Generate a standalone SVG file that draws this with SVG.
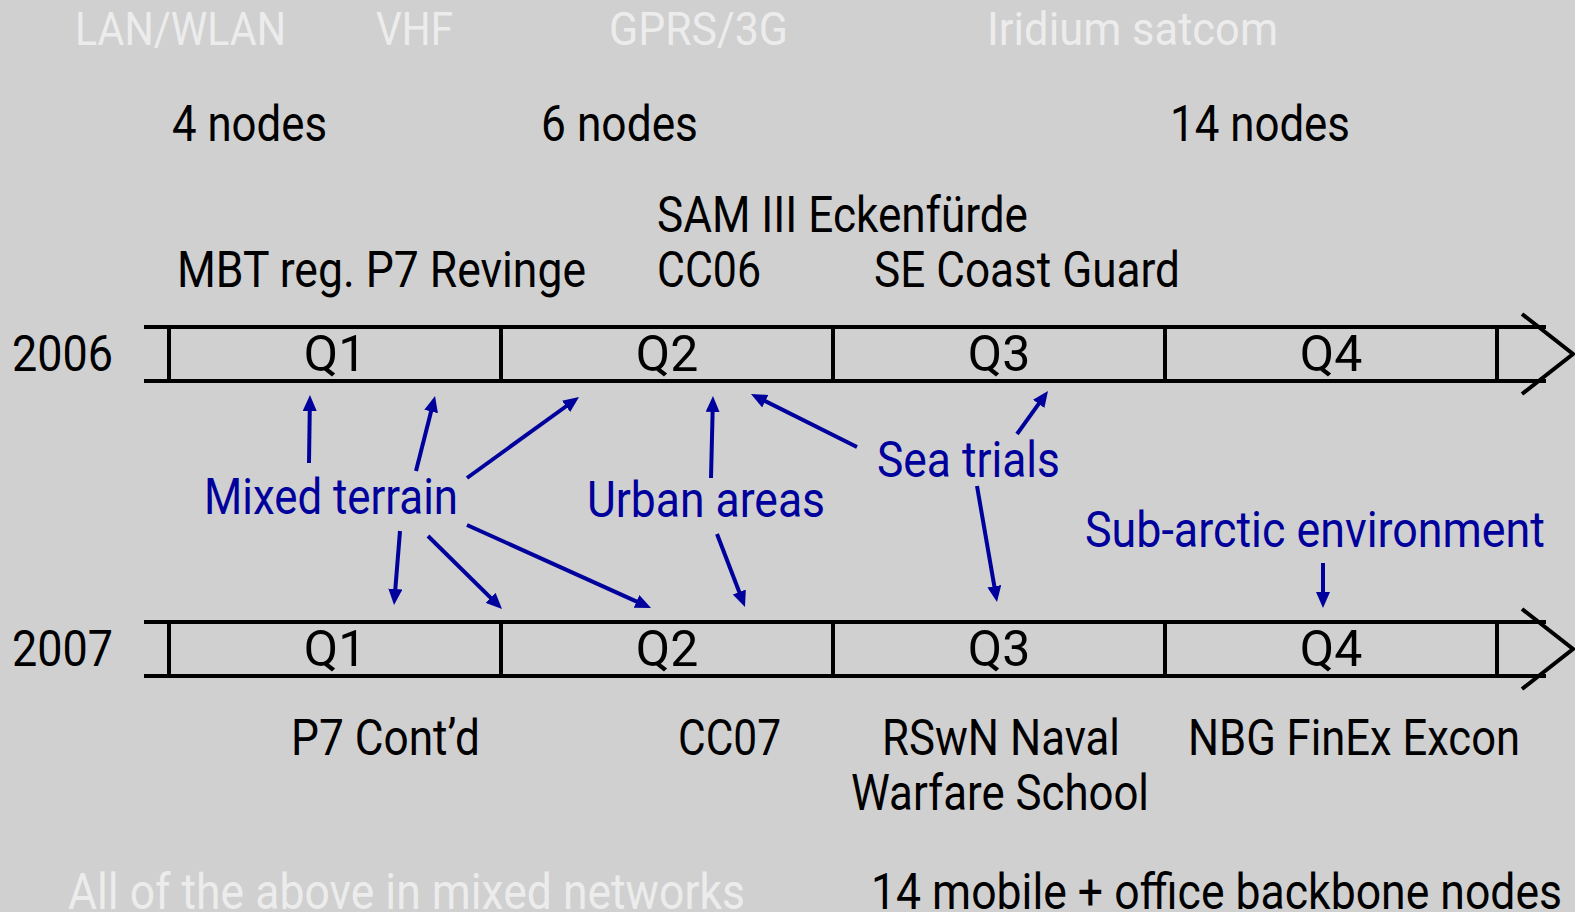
<svg xmlns="http://www.w3.org/2000/svg" width="1575" height="912" viewBox="0 0 1575 912">
<style>
text{font-family:Roboto,"Noto Sans","DejaVu Sans",sans-serif;font-size:50px;fill:#000}
.fade{fill:#ececec;font-size:46px}
.blue{fill:#00009c}
.q{text-anchor:middle}
.tl{stroke:#000;stroke-width:4;fill:none}
.arr{stroke:#00009c;stroke-width:4;fill:none;marker-end:url(#ah)}
</style>
<defs>
<marker id="ah" viewBox="0 0 16 14" markerWidth="16" markerHeight="14" refX="4" refY="7" orient="auto" markerUnits="userSpaceOnUse">
<path d="M0,0 L16,7 L0,14 Z" fill="#00009c"/>
</marker>
</defs>
<rect x="0" y="0" width="1575" height="912" fill="#d0d0d0"/>

<g id="tech-labels">
<text class="fade" x="75" y="45" textLength="211" lengthAdjust="spacingAndGlyphs">LAN/WLAN</text>
<text class="fade" x="376" y="45" textLength="77" lengthAdjust="spacingAndGlyphs">VHF</text>
<text class="fade" x="609" y="45" textLength="179" lengthAdjust="spacingAndGlyphs">GPRS/3G</text>
<text class="fade" x="987" y="45" textLength="291" lengthAdjust="spacingAndGlyphs">Iridium satcom</text>
</g>

<g id="node-counts">
<text x="172" y="141" textLength="155" lengthAdjust="spacingAndGlyphs">4 nodes</text>
<text x="541" y="141" textLength="157" lengthAdjust="spacingAndGlyphs">6 nodes</text>
<text x="1170" y="141" textLength="180" lengthAdjust="spacingAndGlyphs">14 nodes</text>
</g>

<g id="events-2006">
<text x="657" y="232" textLength="371" lengthAdjust="spacingAndGlyphs">SAM III Eckenfürde</text>
<text x="177" y="287" textLength="409" lengthAdjust="spacingAndGlyphs">MBT reg. P7 Revinge</text>
<text x="657" y="287" textLength="104" lengthAdjust="spacingAndGlyphs">CC06</text>
<text x="874" y="287" textLength="306" lengthAdjust="spacingAndGlyphs">SE Coast Guard</text>
</g>

<g id="timeline-2006">
<text x="12" y="371" textLength="101" lengthAdjust="spacingAndGlyphs">2006</text>
<path class="tl" d="M144,327 H1546 M144,381 H1546 M169,327 V381 M501,327 V381 M833,327 V381 M1165,327 V381 M1497,327 V381 M1522,314 L1573,354 L1522,394"/>
<text class="q" x="335" y="371">Q1</text>
<text class="q" x="667" y="371">Q2</text>
<text class="q" x="999" y="371">Q3</text>
<text class="q" x="1331" y="371">Q4</text>
</g>

<g id="timeline-2007">
<text x="12" y="666" textLength="101" lengthAdjust="spacingAndGlyphs">2007</text>
<path class="tl" d="M144,622 H1546 M144,676 H1546 M169,622 V676 M501,622 V676 M833,622 V676 M1165,622 V676 M1497,622 V676 M1522,609 L1573,649 L1522,689"/>
<text class="q" x="335" y="666">Q1</text>
<text class="q" x="667" y="666">Q2</text>
<text class="q" x="999" y="666">Q3</text>
<text class="q" x="1331" y="666">Q4</text>
</g>

<g id="env-mixed-terrain">
<text class="blue" x="204" y="514" textLength="254" lengthAdjust="spacingAndGlyphs">Mixed terrain</text>
</g>
<g id="env-urban-areas">
<text class="blue" x="587" y="517" textLength="238" lengthAdjust="spacingAndGlyphs">Urban areas</text>
</g>
<g id="env-sea-trials">
<text class="blue" x="877" y="477" textLength="183" lengthAdjust="spacingAndGlyphs">Sea trials</text>
</g>
<g id="env-sub-arctic">
<text class="blue" x="1085" y="547" textLength="460" lengthAdjust="spacingAndGlyphs">Sub-arctic environment</text>
</g>

<g id="connectors">
<line class="arr" x1="309" y1="463" x2="309.8" y2="407"/>
<line class="arr" x1="416" y1="471" x2="432.1" y2="407.6"/>
<line class="arr" x1="467" y1="478" x2="569.3" y2="404"/>
<line class="arr" x1="400" y1="531" x2="395" y2="593"/>
<line class="arr" x1="428" y1="536" x2="493.5" y2="600.6"/>
<line class="arr" x1="467" y1="525" x2="640.1" y2="603.1"/>
<line class="arr" x1="711" y1="478" x2="712.7" y2="408"/>
<line class="arr" x1="717" y1="534" x2="740.7" y2="595.8"/>
<line class="arr" x1="857" y1="447" x2="761.7" y2="399.4"/>
<line class="arr" x1="1017" y1="434" x2="1041" y2="400.7"/>
<line class="arr" x1="977" y1="486" x2="995" y2="590.2"/>
<line class="arr" x1="1323" y1="563" x2="1323" y2="596"/>
</g>

<g id="events-2007">
<text x="291" y="755" textLength="189" lengthAdjust="spacingAndGlyphs">P7 Cont’d</text>
<text x="678" y="755" textLength="103" lengthAdjust="spacingAndGlyphs">CC07</text>
<text x="882" y="755" textLength="238" lengthAdjust="spacingAndGlyphs">RSwN Naval</text>
<text x="851" y="810" textLength="298" lengthAdjust="spacingAndGlyphs">Warfare School</text>
<text x="1188" y="755" textLength="332" lengthAdjust="spacingAndGlyphs">NBG FinEx Excon</text>
</g>

<g id="footer">
<text class="fade" x="68" y="909" textLength="677" lengthAdjust="spacingAndGlyphs" style="font-size:50px">All of the above in mixed networks</text>
<text x="871" y="909" textLength="691" lengthAdjust="spacingAndGlyphs">14 mobile + office backbone nodes</text>
</g>
</svg>
